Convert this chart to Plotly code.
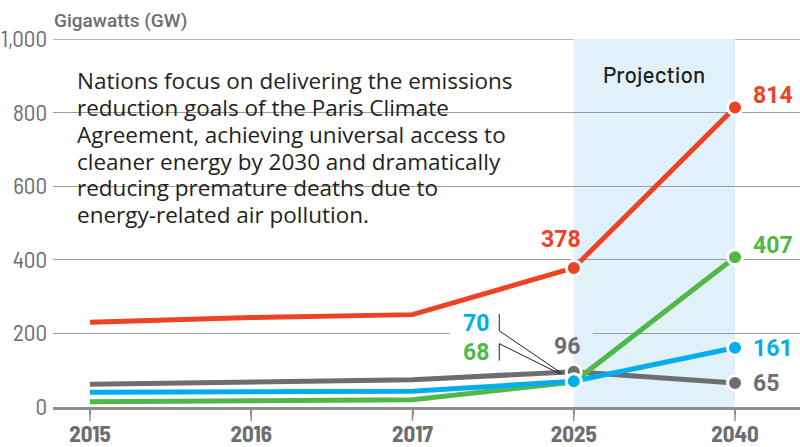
import plotly.graph_objects as go

years = ["2015", "2016", "2017", "2025", "2040"]
red_vals = [230, 243, 251, 378, 814]
gray_vals = [62, 69, 74, 96, 65]
green_vals = [14, 16, 20, 68, 407]
blue_vals = [40, 41, 43, 70, 161]
y_ticks = [0, 200, 400, 600, 800, 1000]
y_tick_text = ["0", "200", "400", "600", "800", "1,000"]
body_lines = ["Nations focus on delivering the emissions",
              "reduction goals of the Paris Climate",
              "Agreement, achieving universal access to",
              "cleaner energy by 2030 and dramatically",
              "reducing premature deaths due to",
              "energy-related air pollution."]

RED, GREEN, BLUE, GRAY = "#EF4123", "#50B848", "#00AEEF", "#6D6E71"
SHADE = "#E0F1F9"
GRID = "#9C9C9F"
AXIS = "#8E8E91"
DARK = "#231F20"
TICKF = "Barlow Semi Condensed, Roboto, sans-serif"
LABF = "Roboto, sans-serif"
MED = "Barlow, Roboto, sans-serif"
BODY = "Open Sans, Noto Sans, sans-serif"

xs = list(range(len(years)))
Y_MAX = 1000
L, T, W, H = 53, 39, 747, 368

fig = go.Figure()
series = [(gray_vals, GRAY), (green_vals, GREEN), (blue_vals, BLUE), (red_vals, RED)]
for vals, col in series:
    fig.add_trace(go.Scatter(x=xs, y=vals, mode="lines", line=dict(color=col, width=5),
                             hoverinfo="skip", showlegend=False, cliponaxis=False))
for vals, col in series:
    fig.add_trace(go.Scatter(x=xs[3:], y=vals[3:], mode="markers",
                             marker=dict(color=col, size=15, line=dict(color="white", width=3)),
                             hoverinfo="skip", showlegend=False, cliponaxis=False))

shapes = []
shapes.append(dict(type="rect", xref="x", yref="y", x0=3, x1=4, y0=0, y1=Y_MAX,
                   fillcolor=SHADE, line=dict(width=0), layer="below"))
shapes.append(dict(type="line", xref="paper", yref="y", x0=0, x1=1, y0=Y_MAX, y1=Y_MAX,
                   line=dict(color=GRID, width=1.3), layer="between"))
# white panel behind the explanatory text
shapes.append(dict(type="rect", xref="paper", yref="paper", x0=0.0134, x1=0.636, y0=0.48, y1=0.93,
                   fillcolor="white", line=dict(width=0), layer="between"))
# gap in the 200 gridline behind the 70 / 96 labels
shapes.append(dict(type="rect", xref="x", yref="y", x0=2.233, x1=3.0, y0=185, y1=215,
                   fillcolor="white", line=dict(width=0), layer="between"))
shapes.append(dict(type="rect", xref="x", yref="y", x0=3.0, x1=3.118, y0=185, y1=215,
                   fillcolor=SHADE, line=dict(width=0), layer="between"))
# longer tick marks below the baseline
for xv in xs:
    shapes.append(dict(type="line", xref="x", yref="paper", x0=xv, x1=xv, y0=0, y1=-14 / H,
                       line=dict(color=AXIS, width=1.5), layer="above"))
shapes += [
    dict(type="line", xref="x", yref="y", x0=2.538, x1=2.538, y0=207, y1=253, line=dict(color=DARK, width=1), layer="above"),
    dict(type="line", xref="x", yref="y", x0=2.538, x1=2.538, y0=126, y1=172, line=dict(color=DARK, width=1), layer="above"),
    dict(type="line", xref="x", yref="y", x0=2.538, x1=2.927, y0=207, y1=91, line=dict(color=DARK, width=1), layer="above"),
    dict(type="line", xref="x", yref="y", x0=2.538, x1=2.915, y0=172, y1=90, line=dict(color=DARK, width=1), layer="above"),
]

ann = []
lab = dict(family=LABF, size=23, weight="bold")
for vals, col, ys in [(red_vals, RED, 12), (green_vals, GREEN, 12), (blue_vals, BLUE, -1), (gray_vals, GRAY, 0)]:
    ann.append(dict(x=4, y=vals[4], xref="x", yref="y", text=str(vals[4]), showarrow=False,
                    xanchor="left", yanchor="middle", xshift=16, yshift=ys,
                    font=dict(lab, color=col)))
ann.append(dict(x=3, y=red_vals[3], xref="x", yref="y", text=str(red_vals[3]), showarrow=False,
                xanchor="center", yanchor="middle", xshift=-13, yshift=28, font=dict(lab, color=RED)))
ann.append(dict(x=3, y=gray_vals[3], xref="x", yref="y", text=str(gray_vals[3]), showarrow=False,
                xanchor="center", yanchor="middle", xshift=-7, yshift=25, font=dict(lab, color=GRAY)))
ann.append(dict(x=2.487, y=226, xref="x", yref="y", text=str(blue_vals[3]), showarrow=False,
                xanchor="right", yanchor="middle", font=dict(lab, color=BLUE)))
ann.append(dict(x=2.487, y=149, xref="x", yref="y", text=str(green_vals[3]), showarrow=False,
                xanchor="right", yanchor="middle", font=dict(lab, color=GREEN)))
ann.append(dict(x=3.5, y=905, xref="x", yref="y", text="Projection", showarrow=False,
                xanchor="center", yanchor="middle", font=dict(family=MED, size=22.5, weight=500, color=DARK)))
px_ann = []
for i, line in enumerate(body_lines):
    px_ann.append(dict(x=75, y=81 + 26.7 * i, text=line, showarrow=False,
                       xanchor="left", yanchor="middle", align="left",
                       font=dict(family=BODY, size=22.5, color=DARK)))
px_ann.append(dict(x=52, y=21, text="Gigawatts (GW)", showarrow=False,
                   xanchor="left", yanchor="middle", font=dict(family=LABF, size=19, weight=500, color=GRAY)))
for a in px_ann:
    a["xref"], a["yref"] = "paper", "paper"
    a["x"] = (a["x"] - L) / W
    a["y"] = (T + H - a["y"]) / H
ann += px_ann

fig.update_layout(
    width=800, height=447,
    margin=dict(l=L, r=800 - L - W, t=T, b=447 - T - H),
    paper_bgcolor="white", plot_bgcolor="white",
    shapes=shapes, annotations=ann,
    xaxis=dict(range=[-0.2295, 4.403], tickvals=xs, ticktext=years, showgrid=False, zeroline=False,
               showline=True, linecolor=AXIS, linewidth=2.5, ticks="outside", ticklen=5,
               tickcolor=AXIS, tickwidth=1.5, automargin=False,
               tickfont=dict(family=TICKF, size=23, weight="bold", color=GRAY), fixedrange=True),
    yaxis=dict(range=[0, Y_MAX], tickvals=y_ticks, ticktext=y_tick_text, showgrid=True, gridcolor=GRID,
               gridwidth=1.3, zeroline=False, showline=False, ticks="", ticklabelstandoff=5, automargin=False,
               tickfont=dict(family=TICKF, size=23, color=GRAY), fixedrange=True),
)
fig.write_html("out.html", config={"displayModeBar": False},
               post_script="document.body.style.margin='0';document.body.style.padding='0';")
